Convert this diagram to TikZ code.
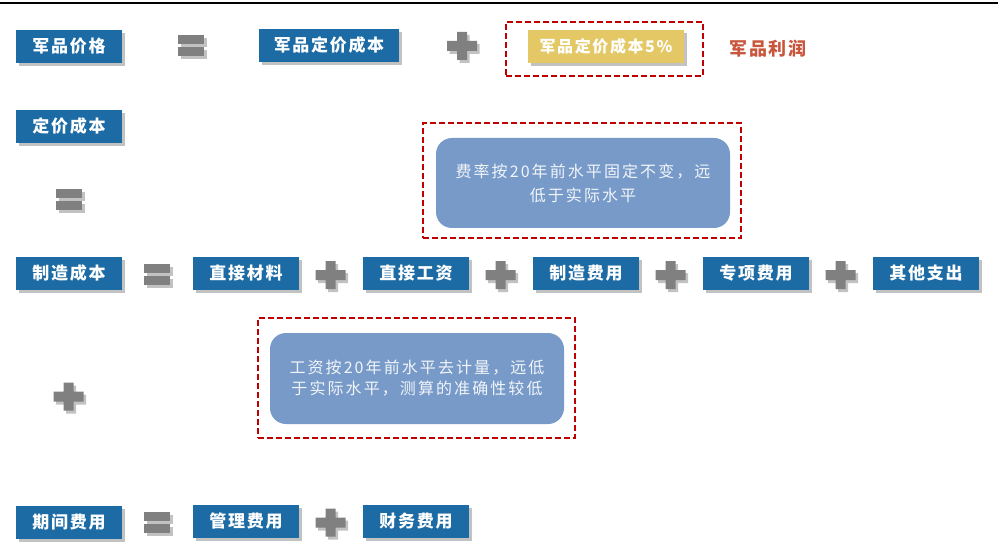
\documentclass[tikz,border=0pt]{standalone}
\usepackage{fontspec}
\newfontfamily\cjk{Noto Sans CJK SC}
\newfontfamily\cjks[LetterSpace=10]{Noto Sans CJK SC}
\newfontfamily\cjkl[LetterSpace=13]{Noto Sans CJK SC}
\usetikzlibrary{shadows}
\definecolor{boxblue}{RGB}{28,107,165}
\definecolor{signgray}{RGB}{128,128,128}
\definecolor{noteblue}{RGB}{119,154,200}
\definecolor{gold}{RGB}{228,200,101}
\definecolor{dashred}{RGB}{192,0,0}
\definecolor{profit}{RGB}{200,85,60}
\tikzset{
  shad/.style={drop shadow={shadow xshift=2.5pt, shadow yshift=-3pt, opacity=0.4, fill=black!60}},
  lbl/.style={fill=boxblue, shad, text=white, font=\cjks\bfseries\fontsize{17}{20}\selectfont,
    minimum width=106pt, minimum height=33pt, inner sep=0pt},
  goldbox/.style={fill=gold, shad, text=white, font=\cjks\bfseries\fontsize{16}{19}\selectfont,
    minimum width=156pt, minimum height=33pt, inner sep=0pt},
  redframe/.style={draw=dashred, line width=1.6pt, dash pattern=on 6pt off 3pt},
  note/.style={fill=noteblue, rounded corners=16pt, text=white, text opacity=0.9,
    font=\cjkl\fontsize{16}{24}\selectfont, align=center, inner sep=0pt},
  profittext/.style={text=profit, font=\cjks\bfseries\fontsize{18}{22}\selectfont},
  pics/eqs/.style={code={
    \fill[signgray, shad] (-13,-10.5) rectangle (13,-1.5);
    \fill[signgray, shad] (-13,1.5) rectangle (13,10.5);
  }},
  pics/pls/.style={code={
    \fill[signgray, shad] (-15,-5) -- (-5,-5) -- (-5,-14) -- (5,-14) -- (5,-5) -- (15,-5)
      -- (15,5) -- (5,5) -- (5,14) -- (-5,14) -- (-5,5) -- (-15,5) -- cycle;
  }}
}
\begin{document}
\begin{tikzpicture}[x=1pt,y=-1pt]
\useasboundingbox (0,0) rectangle (1000,553);
\draw[line width=2pt] (0,3) -- (998,3);
% row 1
\node[lbl] (jpjg) at (69,46.5) {军品价格};
\pic at (191,46) {eqs};
\node[lbl, minimum width=140pt] (jpdjcb) at (329,45.5) {军品定价成本};
\pic at (462,46) {pls};
\node[redframe, minimum width=197pt, minimum height=54pt] (frame1) at (604.5,49) {};
\node[goldbox] (gold) at (606,46.5) {军品定价成本5\%};
\node[profittext] (profit) at (768,49) {军品利润};
% row 2
\node[lbl] (djcb) at (69,126.5) {定价成本};
\pic at (69,199.5) {eqs};
\node[redframe, minimum width=318pt, minimum height=115pt] (frame2) at (582,180.5) {};
\node[note, minimum width=294pt, minimum height=90pt] (note1) at (583,183)
  {费率按20年前水平固定不变，远\\低于实际水平};
% row 3
\node[lbl] (zzcb) at (69,273.5) {制造成本};
\pic at (157,274.5) {eqs};
\node[lbl] (zjcl) at (246,273.5) {直接材料};
\pic at (330.5,275) {pls};
\node[lbl] (zjgz) at (416,273.5) {直接工资};
\pic at (500.5,275) {pls};
\node[lbl] (zzfy) at (586,273.5) {制造费用};
\pic at (670.5,275) {pls};
\node[lbl] (zxfy) at (756,273.5) {专项费用};
\pic at (840.5,275) {pls};
\node[lbl] (qtzc) at (926,273.5) {其他支出};
% note 2
\node[redframe, minimum width=317pt, minimum height=120pt] (frame3) at (416.5,378) {};
\node[note, minimum width=294pt, minimum height=91pt, font=\cjkl\fontsize{16}{21}\selectfont] (note2) at (417,378.5)
  {工资按20年前水平去计量，远低\\于实际水平，测算的准确性较低};
\pic at (68.5,396.5) {pls};
% row 4
\node[lbl] (qjfy) at (69,522.5) {期间费用};
\pic at (157,522.5) {eqs};
\node[lbl] (glfy) at (246,521.5) {管理费用};
\pic at (330.5,522.5) {pls};
\node[lbl] (cwfy) at (416,521.5) {财务费用};
\end{tikzpicture}
\end{document}
